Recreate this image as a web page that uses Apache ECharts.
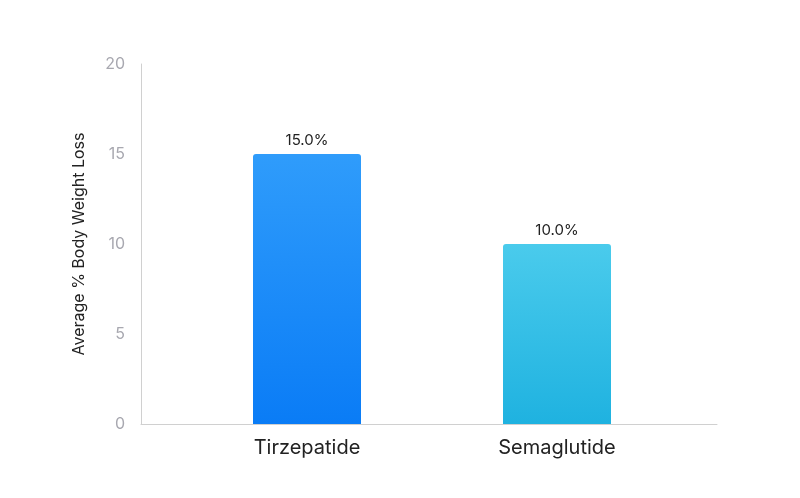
<!DOCTYPE html>
<html><head><meta charset="utf-8">
<script src="https://cdn.jsdelivr.net/npm/echarts@6/dist/echarts.min.js"></script>
<style>html,body{margin:0;background:#fff}#c{width:800px;height:498px}</style>
</head><body><div id="c"></div>
<script>
const categories = ['Tirzepatide', 'Semaglutide'];
const values = [15.0, 10.0];
const yTicks = [0, 5, 10, 15, 20];
const barColors = [['#2f9cfb', '#0a7cf6'], ['#4acbec', '#1fb2e0']];

const chart = echarts.init(document.getElementById('c'));
const font = 'Inter, "Noto Sans", sans-serif';
chart.setOption({
  textStyle: { fontFamily: font },
  grid: [
    { left: 141, right: 83, top: 64, bottom: 74 },
    { left: 182, right: 118, top: 64, bottom: 74 }
  ],
  xAxis: [
    { gridIndex: 0, type: 'category', data: [''], axisLine: { lineStyle: { color: '#d0d0d0' } },
      axisTick: { show: false }, axisLabel: { show: false } },
    { gridIndex: 1, type: 'category', data: categories, axisLine: { show: false },
      axisTick: { show: false },
      axisLabel: { color: '#222', fontSize: 20, margin: 14, fontFamily: font } }
  ],
  yAxis: [
    { gridIndex: 0, type: 'value', min: 0, max: yTicks[yTicks.length - 1], interval: 5,
      name: 'Average % Body Weight Loss', nameLocation: 'middle', nameGap: 54,
      nameTextStyle: { color: '#222', fontSize: 16, fontFamily: font },
      axisLine: { show: true, lineStyle: { color: '#d0d0d0' } }, axisTick: { show: false },
      splitLine: { show: false },
      axisLabel: { color: '#a8a8b0', fontSize: 16, margin: 16, fontFamily: font } },
    { gridIndex: 1, type: 'value', min: 0, max: 20, show: false, splitLine: { show: false } }
  ],
  series: [{
    type: 'bar', xAxisIndex: 1, yAxisIndex: 1, barWidth: 108,
    data: values.map((v, i) => ({
      value: v,
      itemStyle: {
        borderRadius: [3, 3, 0, 0],
        color: new echarts.graphic.LinearGradient(0, 0, 0, 1, [
          { offset: 0, color: barColors[i][0] }, { offset: 1, color: barColors[i][1] }])
      }
    })),
    label: { show: true, position: 'top', distance: 6, color: '#222', fontSize: 15,
      fontFamily: font, formatter: p => p.value.toFixed(1) + '%' }
  }]
});
</script></body></html>
